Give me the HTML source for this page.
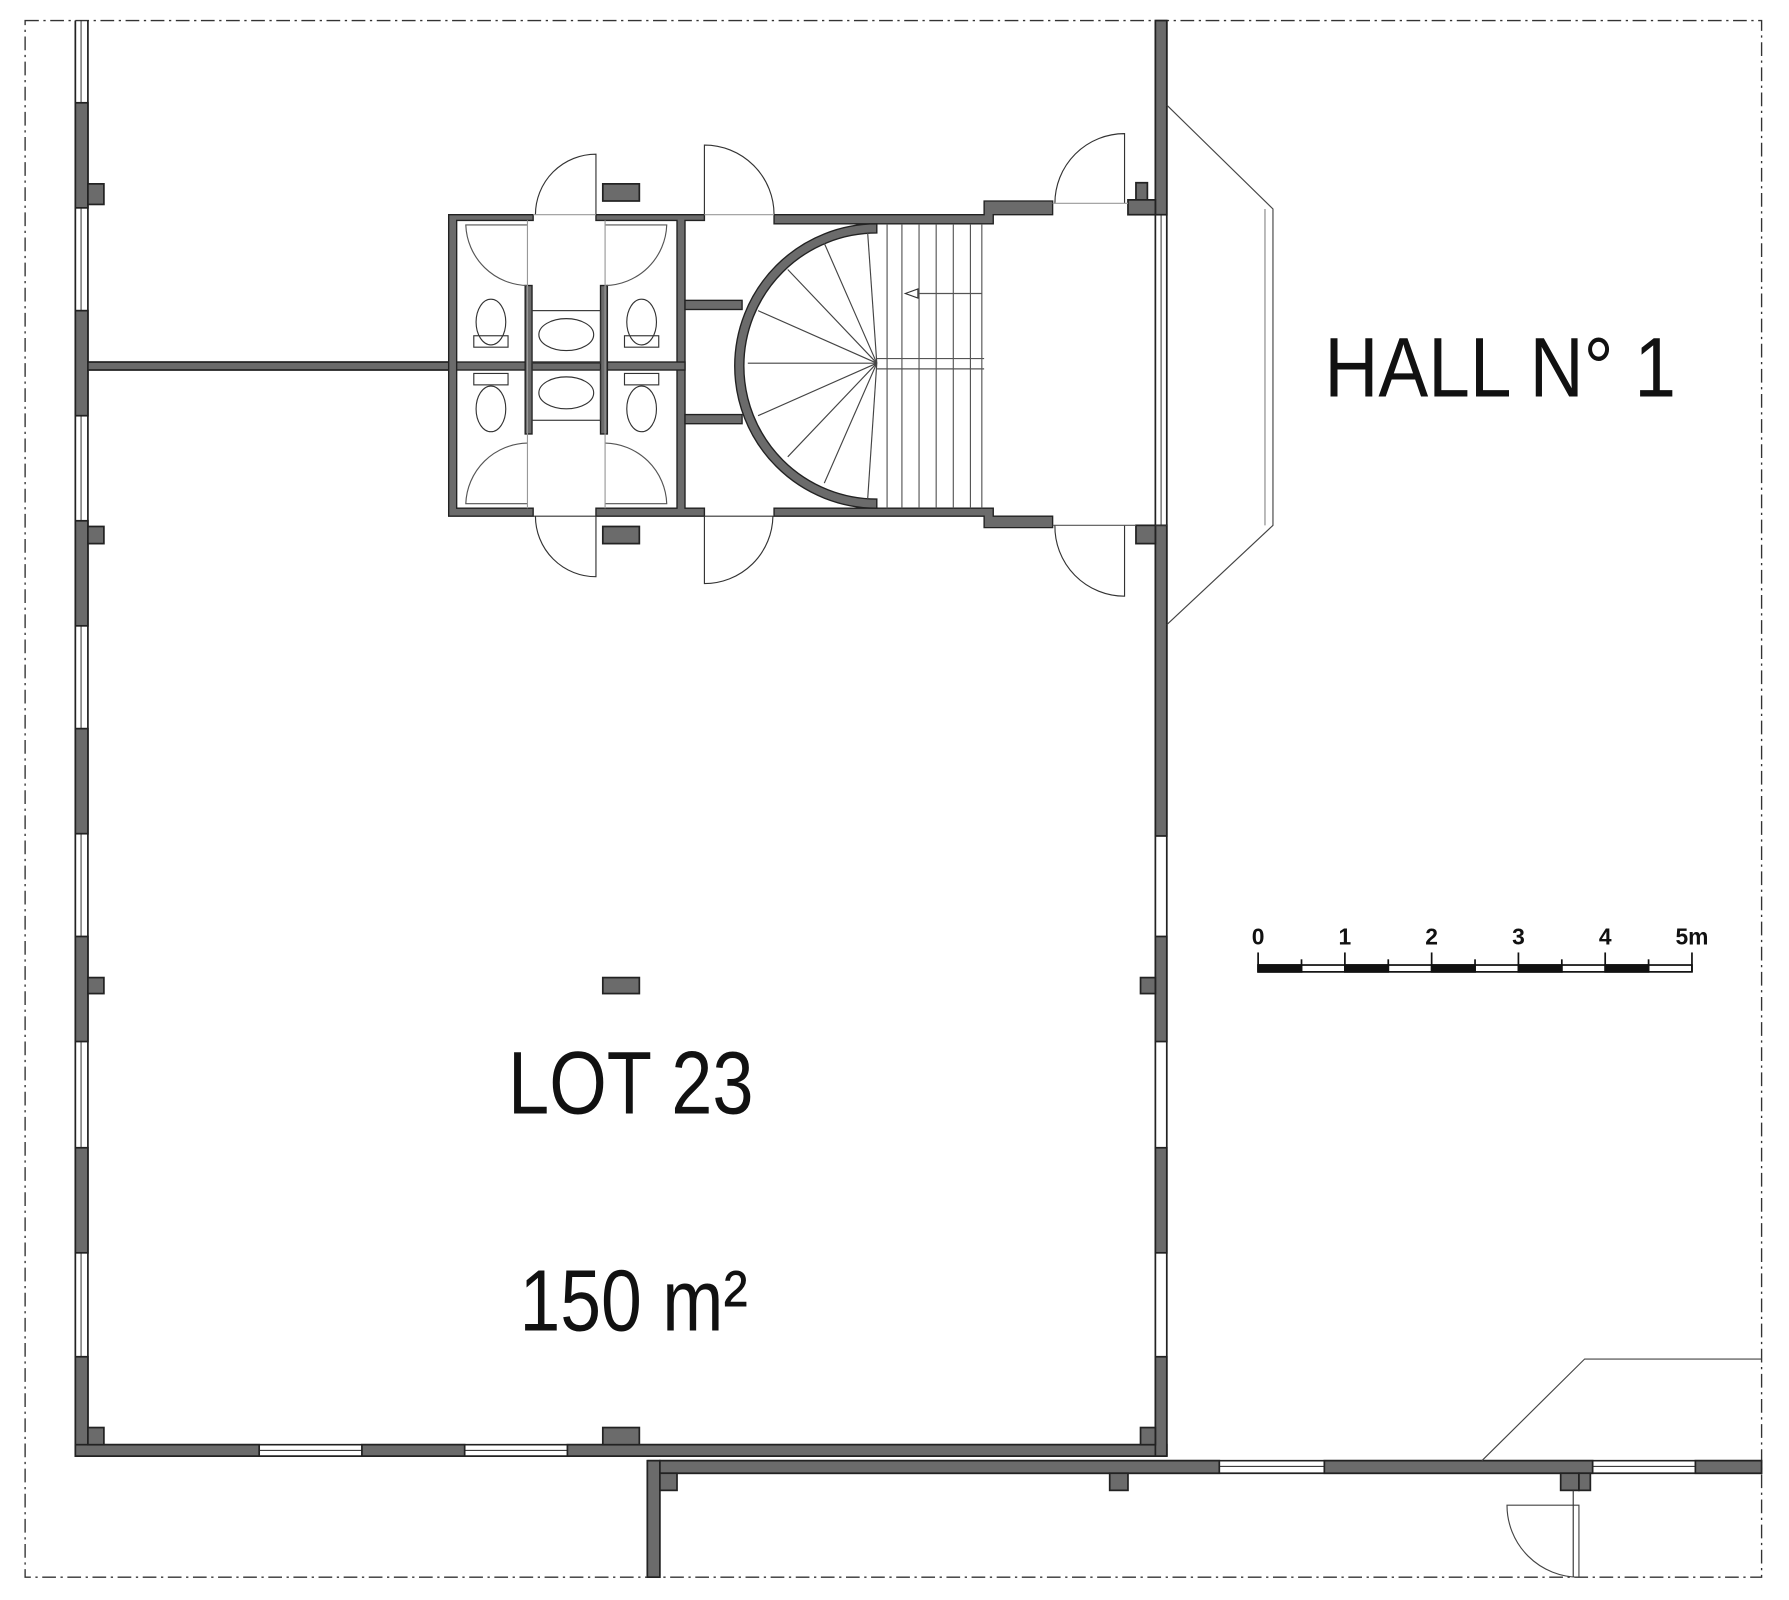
<!DOCTYPE html>
<html><head><meta charset="utf-8"><style>html,body{margin:0;padding:0;background:#fff}svg{display:block}</style></head>
<body>
<svg width="1789" height="1600" viewBox="0 0 1567 1401" preserveAspectRatio="none" xmlns="http://www.w3.org/2000/svg" font-family="Liberation Sans, sans-serif">
<rect x="0" y="0" width="1567" height="1401" fill="#fff"/>
<!-- border -->
<rect x="22" y="18" width="1521" height="1363" fill="none" stroke="#333" stroke-width="1.2" stroke-dasharray="12,4,2,4"/>
<g stroke="#222" stroke-width="1.5">
<!-- left wall windows (double lines) -->
<line x1="66" y1="18" x2="66" y2="1275"/><line x1="77" y1="18" x2="77" y2="1265"/>
<line x1="71" y1="18" x2="71" y2="1270" stroke-width="0.8"/>
<!-- right wall double line -->
<line x1="1012" y1="18" x2="1012" y2="1265"/><line x1="1022" y1="18" x2="1022" y2="1275"/>
<line x1="1017" y1="188" x2="1017" y2="460" stroke-width="0.8"/>
<!-- bottom wall double line -->
<line x1="66" y1="1275" x2="1022" y2="1275"/><line x1="77" y1="1265" x2="1012" y2="1265"/>
<line x1="227" y1="1270" x2="497" y2="1270" stroke-width="0.8"/>
<!-- lower building wall -->
<line x1="567" y1="1279" x2="1543" y2="1279"/><line x1="578" y1="1290" x2="1543" y2="1290"/>
<line x1="1068" y1="1284" x2="1485" y2="1284" stroke-width="0.8"/>
</g>
<g fill="#6b6b6b" stroke="#222" stroke-width="1.5">
<!-- left wall piers -->
<rect x="66" y="18" width="11" height="0"/>
<rect x="66" y="90" width="11" height="92"/>
<rect x="66" y="272" width="11" height="92"/>
<rect x="66" y="456" width="11" height="92"/>
<rect x="66" y="638" width="11" height="92"/>
<rect x="66" y="820" width="11" height="92"/>
<rect x="66" y="1005" width="11" height="92"/>
<rect x="66" y="1188" width="11" height="87"/>
<!-- bottom wall segments -->
<rect x="66" y="1265" width="161" height="10"/>
<rect x="317" y="1265" width="90" height="10"/>
<rect x="497" y="1265" width="525" height="10"/>
<!-- right wall -->
<rect x="1012" y="18" width="10" height="170"/>
<rect x="1012" y="460" width="10" height="272"/>
<rect x="1012" y="820" width="10" height="92"/>
<rect x="1012" y="1005" width="10" height="92"/>
<rect x="1012" y="1188" width="10" height="87"/>
<!-- pillars -->
<rect x="77" y="161" width="14" height="18"/>
<rect x="77" y="461" width="14" height="15"/>
<rect x="77" y="856" width="14" height="14"/>
<rect x="77" y="1250" width="14" height="15"/>
<rect x="999" y="856" width="13" height="14"/>
<rect x="999" y="1250" width="13" height="15"/>
<rect x="528" y="1250" width="32" height="15"/>
<rect x="528" y="856" width="32" height="14"/>
<rect x="528" y="161" width="32" height="15"/>
<rect x="528" y="461" width="32" height="15"/>
<rect x="995" y="160" width="10" height="15"/>
<rect x="988" y="175" width="24" height="13"/>
<rect x="995" y="460" width="17" height="16"/>
<!-- horizontal partition -->
<rect x="77" y="317" width="318" height="7"/>
<!-- lower building -->
<rect x="567" y="1279" width="11" height="102"/>
<rect x="578" y="1279" width="490" height="11"/>
<rect x="1160" y="1279" width="235" height="11"/>
<rect x="1485" y="1279" width="58" height="11"/>
<rect x="578" y="1290" width="15" height="15"/>
<rect x="972" y="1290" width="16" height="15"/>
<rect x="1367" y="1290" width="16" height="15"/>
<rect x="1383" y="1290" width="10" height="15"/>
</g>
<!-- toilet block walls -->
<g fill="#6b6b6b" stroke="#222" stroke-width="1.2">
<path d="M393 188 H467 V193 H400 V445 H467 V452 H393 Z"/>
<path d="M522 188 H617 V193 H600 V445 H617 V452 H522 V445 H593 V193 H522 Z"/>
<rect x="400" y="317" width="200" height="7"/>
<rect x="460" y="250" width="6" height="130"/>
<rect x="526" y="250" width="6" height="130"/>
<rect x="600" y="263" width="50" height="8"/>
<rect x="600" y="363" width="50" height="8"/>
<!-- stair enclosure walls -->
<path d="M678 188 H862 V176 H922 V188 H870 V196 H678 Z"/>
<path d="M678 452 H862 V462 H922 V452 H870 V445 H678 Z"/>
<!-- curved wall -->
<path d="M768 196 A122 122 0 0 0 768 445 L768 437 A114 114 0 0 1 768 204 Z"/>
</g>
<!-- toilet fixtures -->
<g fill="none" stroke="#333" stroke-width="1">
<rect x="466" y="272" width="60" height="46"/>
<rect x="466" y="324" width="60" height="44"/>
<ellipse cx="496" cy="293" rx="24" ry="14"/>
<ellipse cx="496" cy="344" rx="24" ry="14"/>
<ellipse cx="430" cy="282" rx="13" ry="20"/><rect x="415" y="294" width="30" height="10"/>
<ellipse cx="562" cy="282" rx="13" ry="20"/><rect x="547" y="294" width="30" height="10"/>
<ellipse cx="430" cy="358" rx="13" ry="20"/><rect x="415" y="327" width="30" height="10"/>
<ellipse cx="562" cy="358" rx="13" ry="20"/><rect x="547" y="327" width="30" height="10"/>
<!-- inner doors -->
<path d="M462 250 A55 55 0 0 1 408 197 H462" stroke="#555"/>
<path d="M530 250 A55 55 0 0 0 584 197 H530" stroke="#555"/>
<path d="M462 388 A55 55 0 0 0 408 441 H462" stroke="#555"/>
<path d="M530 388 A55 55 0 0 1 584 441 H530" stroke="#555"/>
<line x1="462" y1="193" x2="462" y2="445" stroke="#999"/>
<line x1="530" y1="193" x2="530" y2="445" stroke="#999"/>
<!-- exterior doors -->
<path d="M522 188 V135 A53 53 0 0 0 469 188"/>
<path d="M522 452 V505 A53 53 0 0 1 469 452"/>
<path d="M617 188 V127 A61 61 0 0 1 678 188"/>
<path d="M617 452 V511 A60 60 0 0 0 677 452"/>
<path d="M985 178 V117 A61 61 0 0 0 924 178"/>
<path d="M985 460 V522 A61 61 0 0 1 924 460"/>
<line x1="467" y1="188" x2="522" y2="188" stroke="#999"/>
<line x1="617" y1="188" x2="678" y2="188" stroke="#999"/>
<line x1="922" y1="178" x2="988" y2="178" stroke="#999"/>
<line x1="922" y1="460" x2="995" y2="460" stroke="#555"/>
<line x1="467" y1="452" x2="522" y2="452"/>
<line x1="617" y1="452" x2="678" y2="452"/>
<!-- stair rays -->
<g stroke="#444">
<line x1="768" y1="318" x2="760" y2="204"/>
<line x1="768" y1="318" x2="722" y2="213"/>
<line x1="768" y1="318" x2="690" y2="236"/>
<line x1="768" y1="318" x2="664" y2="272"/>
<line x1="768" y1="318" x2="655" y2="318"/>
<line x1="768" y1="318" x2="664" y2="364"/>
<line x1="768" y1="318" x2="690" y2="400"/>
<line x1="768" y1="318" x2="722" y2="423"/>
<line x1="768" y1="318" x2="760" y2="437"/>
</g>
<g stroke="#555">
<line x1="777" y1="196" x2="777" y2="445"/>
<line x1="790" y1="196" x2="790" y2="445"/>
<line x1="805" y1="196" x2="805" y2="445"/>
<line x1="820" y1="196" x2="820" y2="445"/>
<line x1="835" y1="196" x2="835" y2="445"/>
<line x1="850" y1="196" x2="850" y2="445"/>
<line x1="860" y1="196" x2="860" y2="445"/>
<line x1="768" y1="314" x2="862" y2="314"/>
<line x1="768" y1="323" x2="862" y2="323"/>
<line x1="797" y1="257" x2="860" y2="257"/>
</g>
<path d="M793 257 L804 253 L804 261 Z" fill="#fff" stroke="#333"/>
<!-- hall bay -->
<polyline points="1022,92 1115,183 1115,460 1022,547" stroke="#444"/>
<line x1="1108" y1="183" x2="1108" y2="460" stroke="#888"/>
<!-- lower right -->
<polyline points="1298,1279 1388,1190 1543,1190" stroke="#444"/>
<path d="M1383 1381 V1318 H1320 A63 63 0 0 0 1383 1381" stroke="#444"/>
<line x1="1378" y1="1305" x2="1378" y2="1381"/>
<line x1="1022" y1="460" x2="1012" y2="460"/>
</g>
<!-- texts -->
<text x="1160" y="347" font-size="74" textLength="308" lengthAdjust="spacingAndGlyphs" fill="#111">HALL N° 1</text>
<text x="445" y="975" font-size="78" textLength="215" lengthAdjust="spacingAndGlyphs" fill="#111">LOT 23</text>
<text x="455" y="1165" font-size="76" textLength="200" lengthAdjust="spacingAndGlyphs" fill="#111">150 m²</text>
<!-- scale bar -->
<g font-size="20" font-weight="bold" fill="#111" text-anchor="middle">
<text x="1102" y="827">0</text><text x="1178" y="827">1</text><text x="1254" y="827">2</text>
<text x="1330" y="827">3</text><text x="1406" y="827">4</text><text x="1482" y="827">5m</text>
</g>
<g stroke="#111" stroke-width="1.5">
<rect x="1102" y="845" width="380" height="6" fill="#fff"/>
<rect x="1102" y="845" width="38" height="6" fill="#111"/>
<rect x="1178" y="845" width="38" height="6" fill="#111"/>
<rect x="1254" y="845" width="38" height="6" fill="#111"/>
<rect x="1330" y="845" width="38" height="6" fill="#111"/>
<rect x="1406" y="845" width="38" height="6" fill="#111"/>
<line x1="1102" y1="834" x2="1102" y2="851"/><line x1="1178" y1="834" x2="1178" y2="851"/>
<line x1="1254" y1="834" x2="1254" y2="851"/><line x1="1330" y1="834" x2="1330" y2="851"/>
<line x1="1406" y1="834" x2="1406" y2="851"/><line x1="1482" y1="834" x2="1482" y2="851"/>
<line x1="1140" y1="840" x2="1140" y2="851"/><line x1="1216" y1="840" x2="1216" y2="851"/>
<line x1="1292" y1="840" x2="1292" y2="851"/><line x1="1368" y1="840" x2="1368" y2="851"/>
<line x1="1444" y1="840" x2="1444" y2="851"/>
</g>
</svg>
</body></html>
